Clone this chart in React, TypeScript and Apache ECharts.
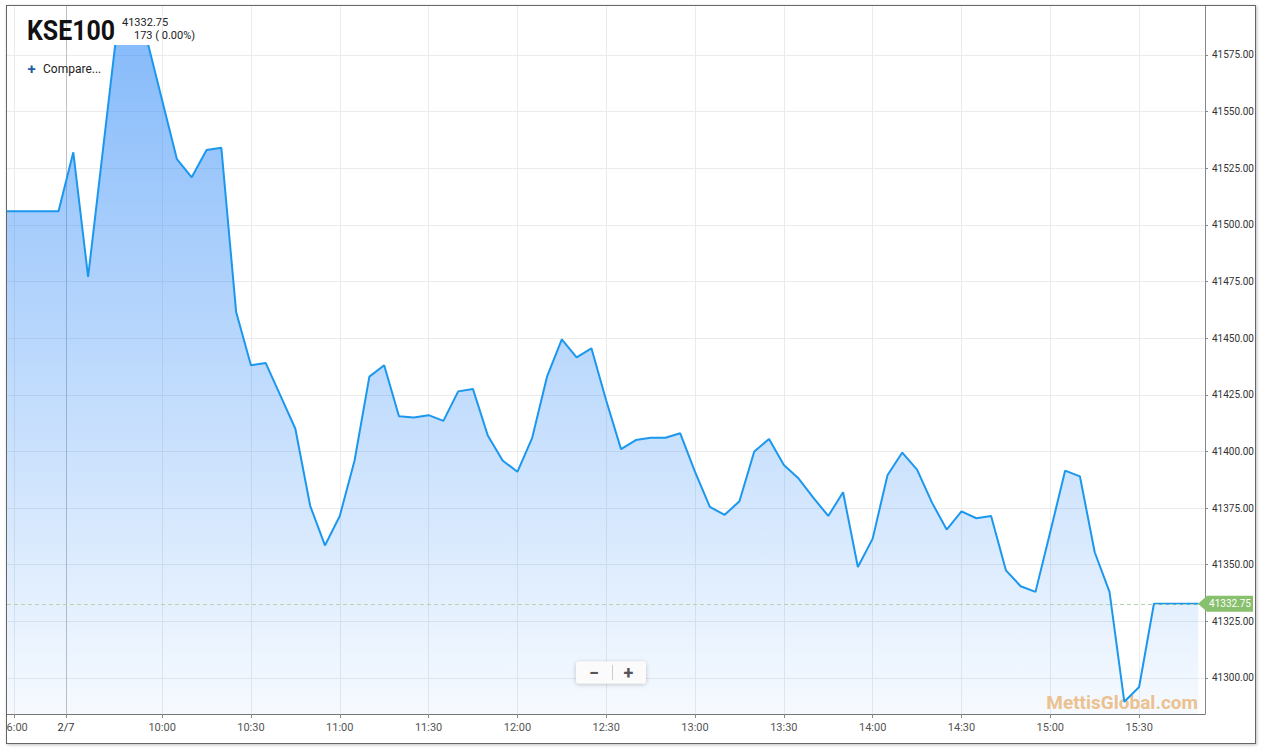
import React, { useEffect, useRef } from 'react';
import * as echarts from 'echarts';

// x position of each point = index in 5-minute steps, 09:30 on 2/7 = step 0
const firstStep = -5;
const prices = [
  41506, 41506, 41506, 41506, 41506,
  41532, 41477, 41533, 41589, 41592, 41581, 41555, 41529, 41521, 41533,
  41534, 41461.5, 41438, 41439, 41424.5, 41410, 41376, 41358.5, 41371.5, 41396,
  41433, 41438, 41415.5, 41415, 41416, 41413.5, 41426.5, 41427.5, 41407, 41396,
  41391, 41406, 41433, 41449.5, 41441.5, 41445.5, 41422.5, 41401, 41405, 41406,
  41406, 41408, 41391, 41375.5, 41372, 41378, 41400, 41405.5, 41394, 41388,
  41379.5, 41371.5, 41382, 41349, 41361.5, 41389.5, 41399.5, 41392, 41377.5, 41365.5,
  41373.5, 41370.5, 41371.5, 41347.5, 41340.5, 41338, 41364.5, 41391.5, 41389, 41355.5,
  41338, 41289.5, 41296, 41332.75, 41332.75, 41332.75, 41332.75,
];
const xTickSteps = [-4, -0.5, 6, 12, 18, 24, 30, 36, 42, 48, 54, 60, 66, 72];
const xTickLabels = ['16:00', '2/7', '10:00', '10:30', '11:00', '11:30', '12:00', '12:30', '13:00', '13:30', '14:00', '14:30', '15:00', '15:30'];
const dayBreakStep = -0.5;
const yTicks = [41300, 41325, 41350, 41375, 41400, 41425, 41450, 41475, 41500, 41525, 41550, 41575];
const xMin = -4.48;
const xMax = 76.45;
const yMin = 41284.1;
const yMax = 41596.6;
const lastPrice = 41332.75;
const symbolName = 'KSE100';
const changeText = '173 ( 0.00%)';
const compareText = 'Compare...';
const watermarkText = 'MettisGlobal.com';

export default function App() {
  const ref = useRef<HTMLDivElement>(null);
  useEffect(() => {
    const chart = echarts.init(ref.current!, null, { renderer: 'svg' });
    const data = prices.map((v, i) => [firstStep + i, v]);
    const font = 'Roboto, "Noto Sans", sans-serif';
    const xSplitColors = xTickSteps.map((s) => (s === dayBreakStep ? '#bcc2c9' : '#ebebeb'));
    chart.setOption({
      animation: false,
      grid: { left: 0, top: 0, right: 50, bottom: 29, containLabel: false, outerBoundsMode: 'none' },
      xAxis: {
        type: 'value',
        min: xMin,
        max: xMax,
        axisLine: { show: true, onZero: false, lineStyle: { color: '#777', width: 1 } },
        axisTick: { show: true, length: 4, customValues: xTickSteps, lineStyle: { color: '#888' } },
        axisLabel: {
          customValues: xTickSteps,
          formatter: (v: number) => {
            const i = xTickSteps.indexOf(v);
            return i >= 0 ? xTickLabels[i] : '';
          },
          color: (v: any) => (Number(v) === dayBreakStep ? '#333' : '#555'),
          fontSize: 11,
          fontFamily: font,
          margin: 8,
          hideOverlap: false,
        },
        splitLine: { show: true, lineStyle: { color: xSplitColors, width: 1 } },
      },
      yAxis: {
        type: 'value',
        position: 'right',
        min: yMin,
        max: yMax,
        scale: true,
        axisLine: { show: true, onZero: false, lineStyle: { color: '#888' } },
        axisTick: { show: true, length: 3, customValues: yTicks, lineStyle: { color: '#888' } },
        axisLabel: {
          customValues: yTicks,
          formatter: (v: number) => Number(v).toFixed(2),
          color: '#333',
          fontSize: 10,
          fontFamily: font,
          margin: 7,
        },
        splitLine: { show: true, lineStyle: { color: '#ebebeb', width: 1 } },
      },
      series: [
        {
          type: 'line',
          data,
          symbol: 'none',
          showSymbol: false,
          z: 2,
          lineStyle: { color: '#1b98ee', width: 2 },
          itemStyle: { color: '#1b98ee' },
          areaStyle: {
            opacity: 1,
            color: new echarts.graphic.LinearGradient(0, 0, 0, 1, [
              { offset: 0, color: 'rgba(38,132,247,0.57)' },
              { offset: 1, color: 'rgba(38,132,247,0.04)' },
            ]),
          },
          markLine: {
            silent: true,
            symbol: ['none', 'none'],
            label: { show: false },
            data: [
              { yAxis: lastPrice, lineStyle: { color: '#b7d2ad', type: [4, 3], width: 1 } },
            ],
          },
        },
      ],
    });

    const gx = chart.convertToPixel({ xAxisIndex: 0 }, xMax) as number;
    const ly = chart.convertToPixel({ yAxisIndex: 0 }, lastPrice) as number;

    chart.setOption({
      graphic: [
        {
          type: 'text', x: 1191, y: 696.5, z: 1,
          style: { text: watermarkText, align: 'right', verticalAlign: 'middle', font: 'bold 19px ' + font, fill: '#f5c48a' },
        },
        { type: 'rect', z: 50, shape: { x: 100, y: 0, width: 50, height: 39 }, style: { fill: '#fff' } },
        {
          type: 'text', x: 20, y: 24, z: 60, scaleX: 0.89,
          style: { text: symbolName, align: 'left', verticalAlign: 'middle', font: 'bold 28px ' + font, fill: '#111' },
        },
        {
          type: 'text', x: 115, y: 16, z: 60,
          style: { text: lastPrice.toFixed(2), align: 'left', verticalAlign: 'middle', font: '11px ' + font, fill: '#222' },
        },
        {
          type: 'text', x: 127, y: 29, z: 60,
          style: { text: changeText, align: 'left', verticalAlign: 'middle', font: '11px ' + font, fill: '#222' },
        },
        {
          type: 'text', x: 24.5, y: 62.5, z: 60,
          style: { text: '+', align: 'center', verticalAlign: 'middle', font: 'bold 15px ' + font, fill: '#1d5ea6' },
        },
        {
          type: 'text', x: 36, y: 63, z: 60,
          style: { text: compareText, align: 'left', verticalAlign: 'middle', font: '12px ' + font, fill: '#222' },
        },
        {
          type: 'rect', z: 60, shape: { x: 569, y: 655.5, width: 70, height: 22, r: 3 },
          style: { fill: '#fbfbfb', shadowBlur: 4, shadowColor: 'rgba(0,0,0,0.22)', shadowOffsetY: 1 },
        },
        { type: 'line', z: 61, shape: { x1: 605.5, y1: 659, x2: 605.5, y2: 674 }, style: { stroke: '#ccc', lineWidth: 1 } },
        {
          type: 'text', x: 587, y: 666.5, z: 61,
          style: { text: '−', align: 'center', verticalAlign: 'middle', font: 'bold 18px ' + font, fill: '#555' },
        },
        {
          type: 'text', x: 621.5, y: 666.5, z: 61,
          style: { text: '+', align: 'center', verticalAlign: 'middle', font: 'bold 18px ' + font, fill: '#555' },
        },
        {
          type: 'polygon', z: 60,
          shape: { points: [[gx - 7, ly], [gx + 2, ly - 8], [gx + 48, ly - 8], [gx + 48, ly + 8], [gx + 2, ly + 8]] },
          style: { fill: '#88c06e' },
        },
        {
          type: 'text', x: gx + 25, y: ly, z: 61,
          style: { text: lastPrice.toFixed(2), align: 'center', verticalAlign: 'middle', font: '10px ' + font, fill: '#fff' },
        },
      ],
    });
    return () => chart.dispose();
  }, []);

  return (
    <div style={{ position: 'fixed', left: 0, top: 0, width: 1261, height: 748, background: '#fff' }}>
      <div
        style={{
          position: 'absolute', left: 6, top: 5, width: 1250, height: 739,
          border: '1px solid #666', boxSizing: 'border-box', boxShadow: '1px 1px 3px rgba(0,0,0,0.25)', background: '#fff',
        }}
      >
        <div ref={ref} style={{ position: 'absolute', left: 0, top: 0, width: 1248, height: 737 }} />
      </div>
    </div>
  );
}
